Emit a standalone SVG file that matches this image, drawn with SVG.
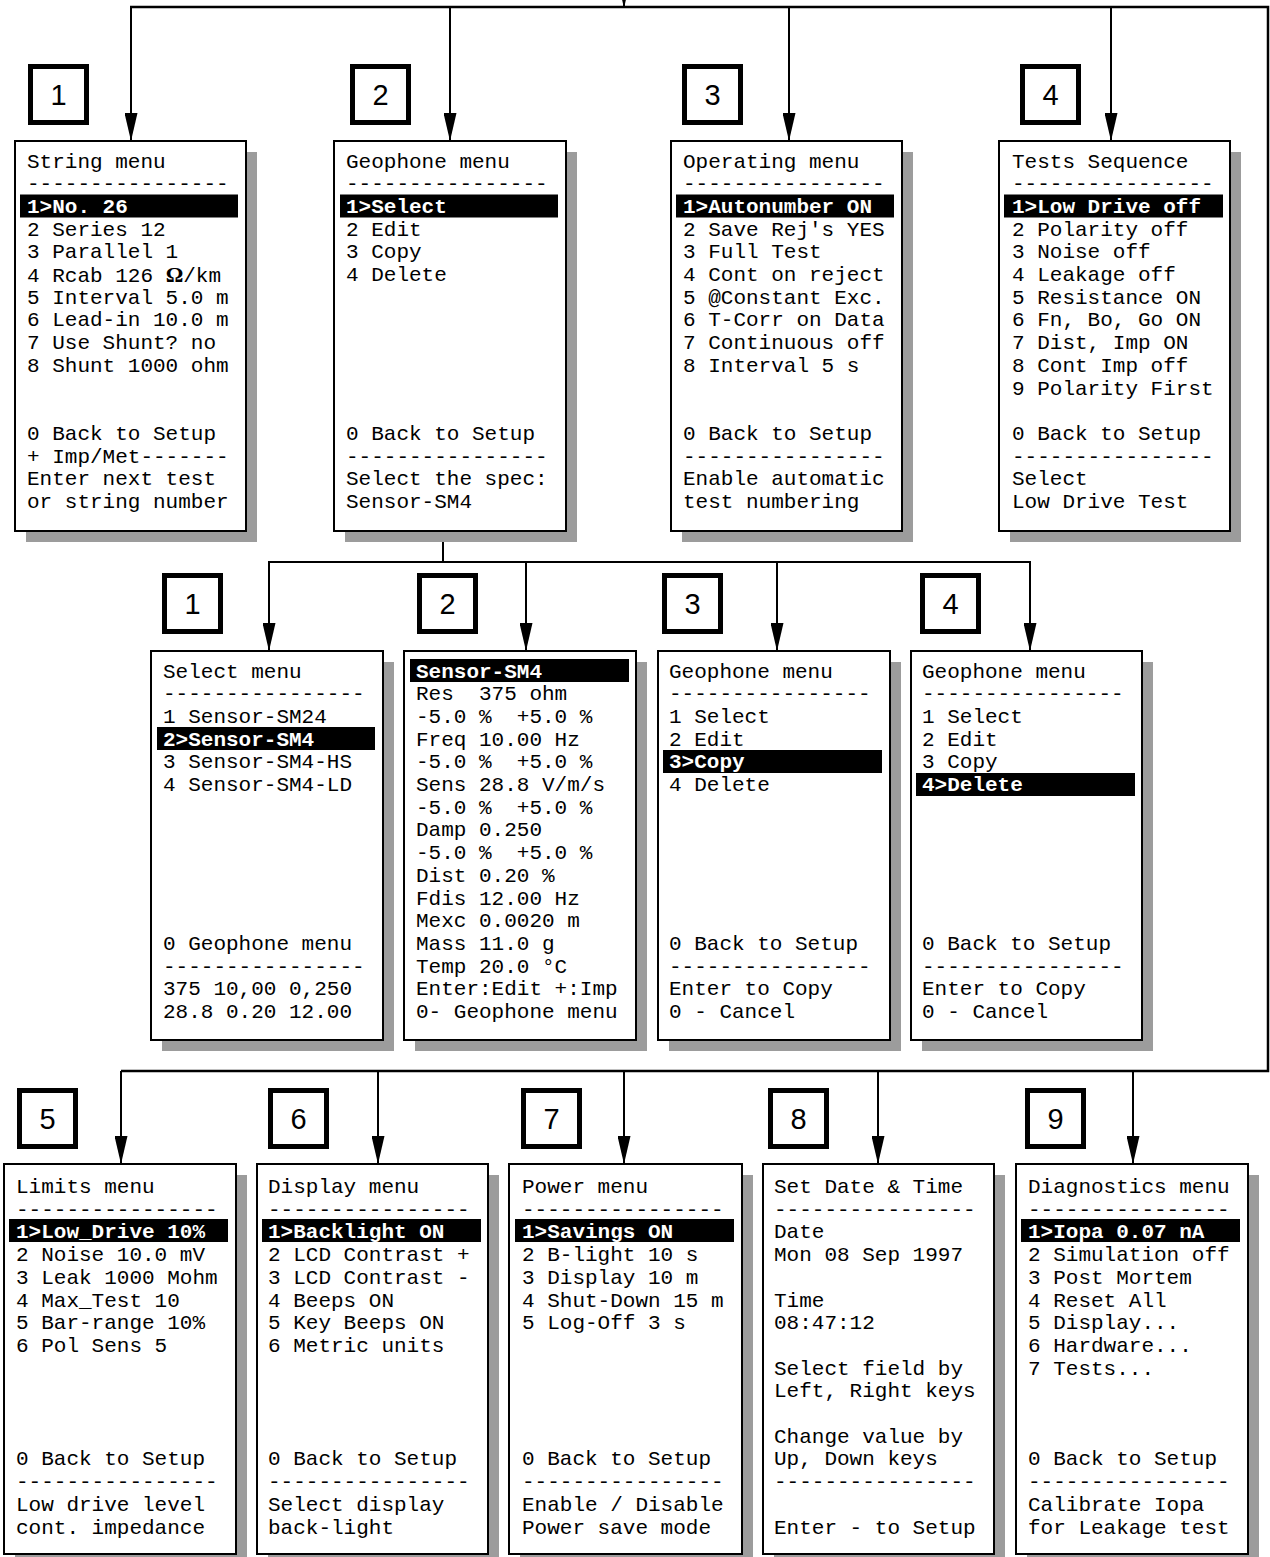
<svg xmlns="http://www.w3.org/2000/svg" width="1270" height="1557" viewBox="0 0 1270 1557">
<style>
.sh{fill:#9c9c9c}
.box{fill:#fff;stroke:#000;stroke-width:2}
.hl{fill:#000}
.t{font-family:"Liberation Mono","Courier New",monospace;font-size:21px;fill:#000;white-space:pre}
.tw{font-family:"Liberation Mono","Courier New",monospace;font-size:21px;font-weight:bold;fill:#fff;white-space:pre}
.lbl{fill:#fff;stroke:#000;stroke-width:5}
.num{font-family:"Liberation Sans",Arial,sans-serif;font-size:29px;text-anchor:middle;fill:#000}
.c{stroke:#000;stroke-width:2;fill:none}
.ca{stroke:#000;stroke-width:2;fill:none;marker-end:url(#ah)}
</style>
<defs>
<marker id="ah" viewBox="0 0 28 13" refX="28" refY="6.5" markerWidth="28" markerHeight="13" markerUnits="userSpaceOnUse" orient="auto">
<path d="M0,0 L28,6.5 L0,13 z" fill="#000"/>
</marker>
</defs>
<rect width="1270" height="1557" fill="#fff"/>

<g id="connectors">
<line class="ca" x1="624" y1="-20" x2="624" y2="8"/>
<polyline class="c" points="130,7 1268,7 1268,1071 121,1071" style="stroke-width:2.5"/>
<line class="ca" x1="131" y1="7" x2="131" y2="141"/>
<line class="ca" x1="450" y1="7" x2="450" y2="141"/>
<line class="ca" x1="789" y1="7" x2="789" y2="141"/>
<line class="ca" x1="1111" y1="7" x2="1111" y2="141"/>
<polyline class="c" points="443,531 443,562"/>
<line class="c" x1="268" y1="562" x2="1031" y2="562"/>
<line class="ca" x1="269" y1="562" x2="269" y2="651"/>
<line class="ca" x1="526" y1="562" x2="526" y2="651"/>
<line class="ca" x1="777" y1="562" x2="777" y2="651"/>
<line class="ca" x1="1030" y1="562" x2="1030" y2="651"/>
<line class="ca" x1="121" y1="1071" x2="121" y2="1164"/>
<line class="ca" x1="378" y1="1071" x2="378" y2="1164"/>
<line class="ca" x1="624" y1="1071" x2="624" y2="1164"/>
<line class="ca" x1="878" y1="1071" x2="878" y2="1164"/>
<line class="ca" x1="1133" y1="1071" x2="1133" y2="1164"/>
</g>

<g id="labels">
<g id="lbl-t1"><rect class="lbl" x="30.5" y="66.5" width="56" height="56"/><text class="num" x="58.5" y="105">1</text></g>
<g id="lbl-t2"><rect class="lbl" x="352.5" y="66.5" width="56" height="56"/><text class="num" x="380.5" y="105">2</text></g>
<g id="lbl-t3"><rect class="lbl" x="684.5" y="66.5" width="56" height="56"/><text class="num" x="712.5" y="105">3</text></g>
<g id="lbl-t4"><rect class="lbl" x="1022.5" y="66.5" width="56" height="56"/><text class="num" x="1050.5" y="105">4</text></g>
<g id="lbl-m1"><rect class="lbl" x="164.5" y="575.5" width="56" height="56"/><text class="num" x="192.5" y="614">1</text></g>
<g id="lbl-m2"><rect class="lbl" x="419.5" y="575.5" width="56" height="56"/><text class="num" x="447.5" y="614">2</text></g>
<g id="lbl-m3"><rect class="lbl" x="664.5" y="575.5" width="56" height="56"/><text class="num" x="692.5" y="614">3</text></g>
<g id="lbl-m4"><rect class="lbl" x="922.5" y="575.5" width="56" height="56"/><text class="num" x="950.5" y="614">4</text></g>
<g id="lbl-b5"><rect class="lbl" x="19.5" y="1090.5" width="56" height="56"/><text class="num" x="47.5" y="1129">5</text></g>
<g id="lbl-b6"><rect class="lbl" x="270.5" y="1090.5" width="56" height="56"/><text class="num" x="298.5" y="1129">6</text></g>
<g id="lbl-b7"><rect class="lbl" x="523.5" y="1090.5" width="56" height="56"/><text class="num" x="551.5" y="1129">7</text></g>
<g id="lbl-b8"><rect class="lbl" x="770.5" y="1090.5" width="56" height="56"/><text class="num" x="798.5" y="1129">8</text></g>
<g id="lbl-b9"><rect class="lbl" x="1027.5" y="1090.5" width="56" height="56"/><text class="num" x="1055.5" y="1129">9</text></g>
</g>

<g id="string-menu">
<rect class="sh" x="26" y="152" width="231" height="390"/>
<rect class="box" x="15" y="141" width="231" height="390"/>
<rect class="hl" x="20" y="194.5" width="218" height="23"/>
<text class="t" x="27" y="167.5">String menu</text>
<text class="t" x="27" y="190.2">----------------</text>
<text class="tw" x="27" y="212.9">1&gt;No. 26</text>
<text class="t" x="27" y="235.6">2 Series 12</text>
<text class="t" x="27" y="258.3">3 Parallel 1</text>
<text class="t" x="27" y="282">4 Rcab 126 <tspan style="font-family:'Liberation Serif',serif;font-weight:bold;font-size:22px">Ω</tspan>/km</text>
<text class="t" x="27" y="303.7">5 Interval 5.0 m</text>
<text class="t" x="27" y="326.4">6 Lead-in 10.0 m</text>
<text class="t" x="27" y="349.1">7 Use Shunt? no</text>
<text class="t" x="27" y="371.8">8 Shunt 1000 ohm</text>
<text class="t" x="27" y="439.9">0 Back to Setup</text>
<text class="t" x="27" y="462.6">+ Imp/Met-------</text>
<text class="t" x="27" y="485.3">Enter next test</text>
<text class="t" x="27" y="508">or string number</text>
</g>

<g id="geophone-menu">
<rect class="sh" x="345" y="152" width="232" height="390"/>
<rect class="box" x="334" y="141" width="232" height="390"/>
<rect class="hl" x="340" y="194.5" width="218" height="23"/>
<text class="t" x="346" y="167.5">Geophone menu</text>
<text class="t" x="346" y="190.2">----------------</text>
<text class="tw" x="346" y="212.9">1&gt;Select</text>
<text class="t" x="346" y="235.6">2 Edit</text>
<text class="t" x="346" y="258.3">3 Copy</text>
<text class="t" x="346" y="281">4 Delete</text>
<text class="t" x="346" y="439.9">0 Back to Setup</text>
<text class="t" x="346" y="462.6">----------------</text>
<text class="t" x="346" y="485.3">Select the spec:</text>
<text class="t" x="346" y="508">Sensor-SM4</text>
</g>

<g id="operating-menu">
<rect class="sh" x="682" y="152" width="231" height="390"/>
<rect class="box" x="671" y="141" width="231" height="390"/>
<rect class="hl" x="676" y="194.5" width="218" height="23"/>
<text class="t" x="683" y="167.5">Operating menu</text>
<text class="t" x="683" y="190.2">----------------</text>
<text class="tw" x="683" y="212.9">1&gt;Autonumber ON</text>
<text class="t" x="683" y="235.6">2 Save Rej's YES</text>
<text class="t" x="683" y="258.3">3 Full Test</text>
<text class="t" x="683" y="281">4 Cont on reject</text>
<text class="t" x="683" y="303.7">5 @Constant Exc.</text>
<text class="t" x="683" y="326.4">6 T-Corr on Data</text>
<text class="t" x="683" y="349.1">7 Continuous off</text>
<text class="t" x="683" y="371.8">8 Interval 5 s</text>
<text class="t" x="683" y="439.9">0 Back to Setup</text>
<text class="t" x="683" y="462.6">----------------</text>
<text class="t" x="683" y="485.3">Enable automatic</text>
<text class="t" x="683" y="508">test numbering</text>
</g>

<g id="tests-sequence">
<rect class="sh" x="1010" y="152" width="231" height="390"/>
<rect class="box" x="999" y="141" width="231" height="390"/>
<rect class="hl" x="1004" y="194.5" width="219" height="23"/>
<text class="t" x="1012" y="167.5">Tests Sequence</text>
<text class="t" x="1012" y="190.2">----------------</text>
<text class="tw" x="1012" y="212.9">1&gt;Low Drive off</text>
<text class="t" x="1012" y="235.6">2 Polarity off</text>
<text class="t" x="1012" y="258.3">3 Noise off</text>
<text class="t" x="1012" y="281">4 Leakage off</text>
<text class="t" x="1012" y="303.7">5 Resistance ON</text>
<text class="t" x="1012" y="326.4">6 Fn, Bo, Go ON</text>
<text class="t" x="1012" y="349.1">7 Dist, Imp ON</text>
<text class="t" x="1012" y="371.8">8 Cont Imp off</text>
<text class="t" x="1012" y="394.5">9 Polarity First</text>
<text class="t" x="1012" y="439.9">0 Back to Setup</text>
<text class="t" x="1012" y="462.6">----------------</text>
<text class="t" x="1012" y="485.3">Select</text>
<text class="t" x="1012" y="508">Low Drive Test</text>
</g>

<g id="select-menu">
<rect class="sh" x="162" y="662" width="232" height="389"/>
<rect class="box" x="151" y="651" width="232" height="389"/>
<rect class="hl" x="157" y="727" width="218" height="23"/>
<text class="t" x="163" y="677.5">Select menu</text>
<text class="t" x="163" y="700.2">----------------</text>
<text class="t" x="163" y="722.9">1 Sensor-SM24</text>
<text class="tw" x="163" y="745.6">2&gt;Sensor-SM4</text>
<text class="t" x="163" y="768.3">3 Sensor-SM4-HS</text>
<text class="t" x="163" y="791">4 Sensor-SM4-LD</text>
<text class="t" x="163" y="949.9">0 Geophone menu</text>
<text class="t" x="163" y="972.6">----------------</text>
<text class="t" x="163" y="995.3">375 10,00 0,250</text>
<text class="t" x="163" y="1018">28.8 0.20 12.00</text>
</g>

<g id="sensor-sm4">
<rect class="sh" x="415" y="662" width="232" height="389"/>
<rect class="box" x="404" y="651" width="232" height="389"/>
<rect class="hl" x="410" y="659" width="219" height="23"/>
<text class="tw" x="416" y="677.5">Sensor-SM4</text>
<text class="t" x="416" y="700.2">Res  375 ohm</text>
<text class="t" x="416" y="722.9">-5.0 %  +5.0 %</text>
<text class="t" x="416" y="745.6">Freq 10.00 Hz</text>
<text class="t" x="416" y="768.3">-5.0 %  +5.0 %</text>
<text class="t" x="416" y="791">Sens 28.8 V/m/s</text>
<text class="t" x="416" y="813.7">-5.0 %  +5.0 %</text>
<text class="t" x="416" y="836.4">Damp 0.250</text>
<text class="t" x="416" y="859.1">-5.0 %  +5.0 %</text>
<text class="t" x="416" y="881.8">Dist 0.20 %</text>
<text class="t" x="416" y="904.5">Fdis 12.00 Hz</text>
<text class="t" x="416" y="927.2">Mexc 0.0020 m</text>
<text class="t" x="416" y="949.9">Mass 11.0 g</text>
<text class="t" x="416" y="972.6">Temp 20.0 °C</text>
<text class="t" x="416" y="995.3">Enter:Edit +:Imp</text>
<text class="t" x="416" y="1018">0- Geophone menu</text>
</g>

<g id="geophone-copy">
<rect class="sh" x="669" y="662" width="232" height="389"/>
<rect class="box" x="658" y="651" width="232" height="389"/>
<rect class="hl" x="663" y="750" width="219" height="23"/>
<text class="t" x="669" y="677.5">Geophone menu</text>
<text class="t" x="669" y="700.2">----------------</text>
<text class="t" x="669" y="722.9">1 Select</text>
<text class="t" x="669" y="745.6">2 Edit</text>
<text class="tw" x="669" y="768.3">3&gt;Copy</text>
<text class="t" x="669" y="791">4 Delete</text>
<text class="t" x="669" y="949.9">0 Back to Setup</text>
<text class="t" x="669" y="972.6">----------------</text>
<text class="t" x="669" y="995.3">Enter to Copy</text>
<text class="t" x="669" y="1018">0 - Cancel</text>
</g>

<g id="geophone-delete">
<rect class="sh" x="922" y="662" width="231" height="389"/>
<rect class="box" x="911" y="651" width="231" height="389"/>
<rect class="hl" x="916" y="773" width="219" height="23"/>
<text class="t" x="922" y="677.5">Geophone menu</text>
<text class="t" x="922" y="700.2">----------------</text>
<text class="t" x="922" y="722.9">1 Select</text>
<text class="t" x="922" y="745.6">2 Edit</text>
<text class="t" x="922" y="768.3">3 Copy</text>
<text class="tw" x="922" y="791">4&gt;Delete</text>
<text class="t" x="922" y="949.9">0 Back to Setup</text>
<text class="t" x="922" y="972.6">----------------</text>
<text class="t" x="922" y="995.3">Enter to Copy</text>
<text class="t" x="922" y="1018">0 - Cancel</text>
</g>

<g id="limits-menu">
<rect class="sh" x="15" y="1175" width="232" height="390"/>
<rect class="box" x="4" y="1164" width="232" height="390"/>
<rect class="hl" x="9" y="1219" width="219" height="23"/>
<text class="t" x="16" y="1193">Limits menu</text>
<text class="t" x="16" y="1215.7">----------------</text>
<text class="tw" x="16" y="1238.4">1&gt;Low_Drive 10%</text>
<text class="t" x="16" y="1261.1">2 Noise 10.0 mV</text>
<text class="t" x="16" y="1283.8">3 Leak 1000 Mohm</text>
<text class="t" x="16" y="1306.5">4 Max_Test 10</text>
<text class="t" x="16" y="1329.2">5 Bar-range 10%</text>
<text class="t" x="16" y="1351.9">6 Pol Sens 5</text>
<text class="t" x="16" y="1465.4">0 Back to Setup</text>
<text class="t" x="16" y="1488.1">----------------</text>
<text class="t" x="16" y="1510.8">Low drive level</text>
<text class="t" x="16" y="1533.5">cont. impedance</text>
</g>

<g id="display-menu">
<rect class="sh" x="268" y="1175" width="231" height="390"/>
<rect class="box" x="257" y="1164" width="231" height="390"/>
<rect class="hl" x="262" y="1219" width="219" height="23"/>
<text class="t" x="268" y="1193">Display menu</text>
<text class="t" x="268" y="1215.7">----------------</text>
<text class="tw" x="268" y="1238.4">1&gt;Backlight ON</text>
<text class="t" x="268" y="1261.1">2 LCD Contrast +</text>
<text class="t" x="268" y="1283.8">3 LCD Contrast -</text>
<text class="t" x="268" y="1306.5">4 Beeps ON</text>
<text class="t" x="268" y="1329.2">5 Key Beeps ON</text>
<text class="t" x="268" y="1351.9">6 Metric units</text>
<text class="t" x="268" y="1465.4">0 Back to Setup</text>
<text class="t" x="268" y="1488.1">----------------</text>
<text class="t" x="268" y="1510.8">Select display</text>
<text class="t" x="268" y="1533.5">back-light</text>
</g>

<g id="power-menu">
<rect class="sh" x="520" y="1175" width="233" height="390"/>
<rect class="box" x="509" y="1164" width="233" height="390"/>
<rect class="hl" x="515" y="1219" width="219" height="23"/>
<text class="t" x="522" y="1193">Power menu</text>
<text class="t" x="522" y="1215.7">----------------</text>
<text class="tw" x="522" y="1238.4">1&gt;Savings ON</text>
<text class="t" x="522" y="1261.1">2 B-light 10 s</text>
<text class="t" x="522" y="1283.8">3 Display 10 m</text>
<text class="t" x="522" y="1306.5">4 Shut-Down 15 m</text>
<text class="t" x="522" y="1329.2">5 Log-Off 3 s</text>
<text class="t" x="522" y="1465.4">0 Back to Setup</text>
<text class="t" x="522" y="1488.1">----------------</text>
<text class="t" x="522" y="1510.8">Enable / Disable</text>
<text class="t" x="522" y="1533.5">Power save mode</text>
</g>

<g id="set-date-time">
<rect class="sh" x="774" y="1175" width="231" height="390"/>
<rect class="box" x="763" y="1164" width="231" height="390"/>
<text class="t" x="774" y="1193">Set Date &amp; Time</text>
<text class="t" x="774" y="1215.7">----------------</text>
<text class="t" x="774" y="1238.4">Date</text>
<text class="t" x="774" y="1261.1">Mon 08 Sep 1997</text>
<text class="t" x="774" y="1306.5">Time</text>
<text class="t" x="774" y="1329.2">08:47:12</text>
<text class="t" x="774" y="1374.6">Select field by</text>
<text class="t" x="774" y="1397.3">Left, Right keys</text>
<text class="t" x="774" y="1442.7">Change value by</text>
<text class="t" x="774" y="1465.4">Up, Down keys</text>
<text class="t" x="774" y="1488.1">----------------</text>
<text class="t" x="774" y="1533.5">Enter - to Setup</text>
</g>

<g id="diagnostics-menu">
<rect class="sh" x="1027" y="1175" width="232" height="390"/>
<rect class="box" x="1016" y="1164" width="232" height="390"/>
<rect class="hl" x="1021" y="1219" width="219" height="23"/>
<text class="t" x="1028" y="1193">Diagnostics menu</text>
<text class="t" x="1028" y="1215.7">----------------</text>
<text class="tw" x="1028" y="1238.4">1&gt;Iopa 0.07 nA</text>
<text class="t" x="1028" y="1261.1">2 Simulation off</text>
<text class="t" x="1028" y="1283.8">3 Post Mortem</text>
<text class="t" x="1028" y="1306.5">4 Reset All</text>
<text class="t" x="1028" y="1329.2">5 Display...</text>
<text class="t" x="1028" y="1351.9">6 Hardware...</text>
<text class="t" x="1028" y="1374.6">7 Tests...</text>
<text class="t" x="1028" y="1465.4">0 Back to Setup</text>
<text class="t" x="1028" y="1488.1">----------------</text>
<text class="t" x="1028" y="1510.8">Calibrate Iopa</text>
<text class="t" x="1028" y="1533.5">for Leakage test</text>
</g>
</svg>
